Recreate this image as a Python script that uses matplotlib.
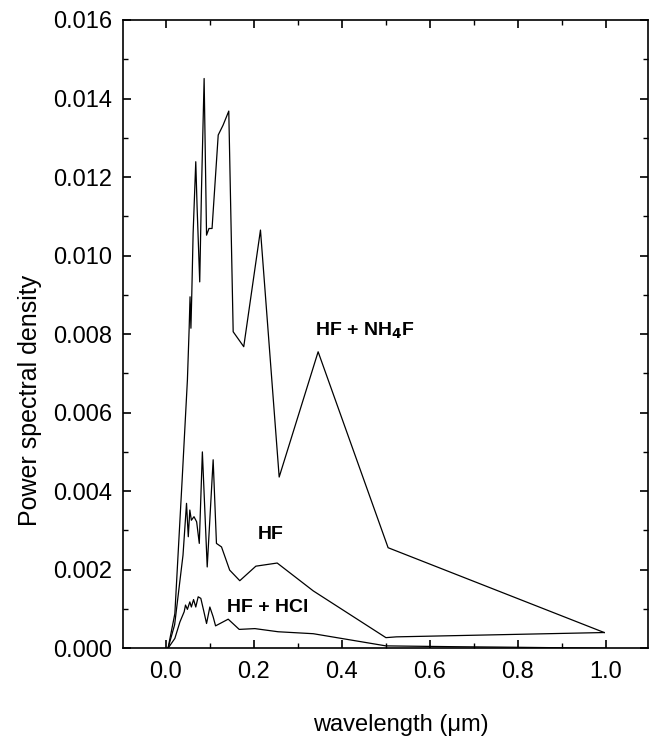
import matplotlib.pyplot as plt
from matplotlib.ticker import MultipleLocator, FormatStrFormatter

plt.rcParams['font.family'] = ['Liberation Sans', 'DejaVu Sans']

# HF + NH4F
nh4f_x = [0.005, 0.0205, 0.037, 0.049, 0.053, 0.055, 0.057, 0.059, 0.062, 0.068,
          0.071, 0.077, 0.081, 0.087, 0.0925, 0.098, 0.105, 0.119, 0.130, 0.143,
          0.153, 0.177, 0.215, 0.2575, 0.346, 0.505, 0.996]
nh4f_y = [0.0, 0.00088, 0.00428, 0.00683, 0.00815, 0.00895, 0.00815, 0.00904, 0.01057, 0.01239,
          0.01124, 0.00933, 0.01167, 0.01451, 0.01052, 0.01069, 0.01069, 0.01307, 0.01332, 0.01368,
          0.00806, 0.00768, 0.01065, 0.00436, 0.00755, 0.00256, 0.0004]

# HF
hf_x = [0.005, 0.02, 0.039, 0.047, 0.051, 0.0545, 0.058, 0.064, 0.070, 0.076,
        0.083, 0.094, 0.1075, 0.115, 0.1265, 0.145, 0.168, 0.2045, 0.253, 0.335,
        0.5, 0.524, 0.996]
hf_y = [0.0, 0.0006, 0.00237, 0.00369, 0.00284, 0.00352, 0.00326, 0.00335, 0.00322, 0.00267,
        0.0050, 0.00207, 0.0048, 0.00267, 0.00258, 0.00199, 0.00172, 0.00209, 0.00217, 0.00146,
        0.00027, 0.00029, 0.0004]

# HF + HCl
hcl_x = [0.005, 0.0205, 0.032, 0.0417, 0.0447, 0.049, 0.0545, 0.058, 0.063, 0.068,
         0.0735, 0.0795, 0.0857, 0.0925, 0.100, 0.1075, 0.113, 0.1417, 0.1667, 0.2023,
         0.255, 0.335, 0.5, 0.65, 0.75, 1.0]
hcl_y = [0.0, 0.00025, 0.00067, 0.00093, 0.00110, 0.00099, 0.00118, 0.00105, 0.00124, 0.00105,
         0.00131, 0.00127, 0.00097, 0.00063, 0.00105, 0.0008, 0.00057, 0.00074, 0.00048, 0.0005,
         0.00042, 0.00037, 0.00006, 0.00004, 0.00003, 0.0]

fig = plt.figure(figsize=(6.55, 7.4), dpi=100)
ax = fig.add_axes([0.188, 0.124, 0.801, 0.849])

for xs, ys in [(nh4f_x, nh4f_y), (hf_x, hf_y), (hcl_x, hcl_y)]:
    ax.plot(xs, ys, color='black', lw=0.9)

ax.text(0.452, 0.00808, r'HF + NH$_\mathbf{4}$F', fontsize=14, fontweight='bold', ha='center', va='center')
ax.text(0.238, 0.00289, 'HF', fontsize=14, fontweight='bold', ha='center', va='center')
ax.text(0.231, 0.00103, 'HF + HCl', fontsize=14, fontweight='bold', ha='center', va='center')

ax.set_xlim(-0.097, 1.095)
ax.set_ylim(0, 0.016)
ax.xaxis.set_major_locator(MultipleLocator(0.2))
ax.xaxis.set_minor_locator(MultipleLocator(0.1))
ax.yaxis.set_major_locator(MultipleLocator(0.002))
ax.yaxis.set_minor_locator(MultipleLocator(0.001))
ax.xaxis.set_major_formatter(FormatStrFormatter('%.1f'))
ax.yaxis.set_major_formatter(FormatStrFormatter('%.3f'))
ax.tick_params(which='both', direction='in', top=True, right=True, labelsize=17)
ax.tick_params(which='major', length=6, width=1.2)
ax.tick_params(axis='x', which='major', pad=9)
ax.tick_params(axis='y', which='major', pad=8)
ax.tick_params(which='minor', length=3.5, width=1.0)
for s in ax.spines.values():
    s.set_linewidth(1.2)

ax.set_xlabel('wavelength (μm)', fontsize=17)
ax.set_ylabel('Power spectral density', fontsize=18)
ax.xaxis.set_label_coords(0.53, -0.105)
ax.yaxis.set_label_coords(-0.155, 0.395)

plt.savefig('out.png', dpi=100)
